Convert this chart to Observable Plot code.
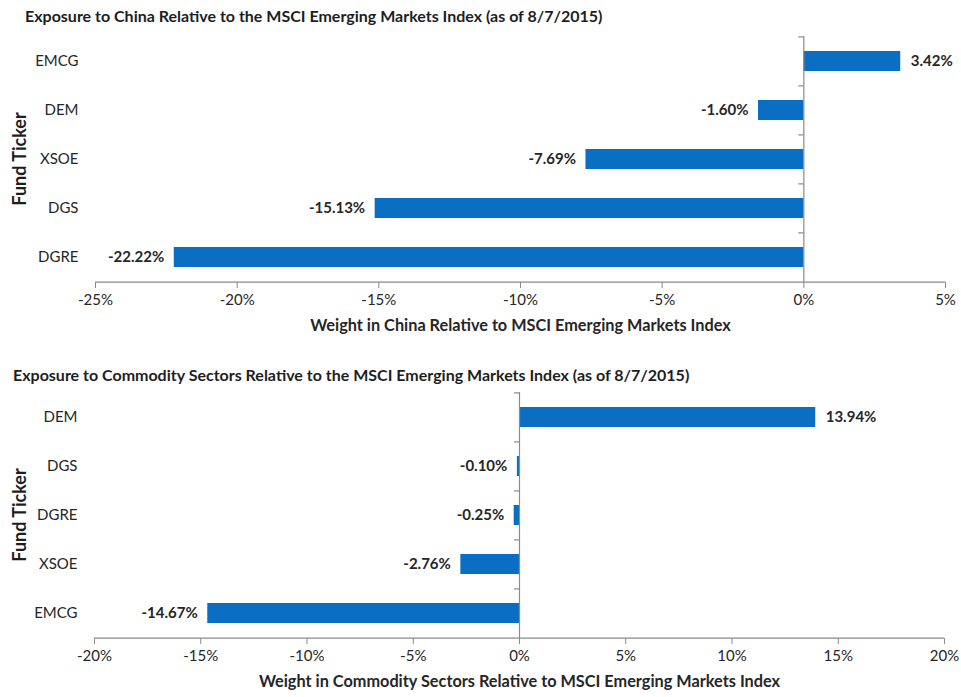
<!DOCTYPE html>
<html><head><meta charset="utf-8">
<script src="https://cdn.jsdelivr.net/npm/d3@7"></script>
<script src="https://cdn.jsdelivr.net/npm/@observablehq/plot@0.6"></script>
<style>
body{margin:0;background:#fff;font-family:Lato,sans-serif;}
#wrap{position:relative;width:961px;height:697px;overflow:hidden;}
.title{position:absolute;z-index:2;font-weight:bold;font-size:16px;color:#1e1e1e;white-space:nowrap;line-height:18px;}
.ylab{position:absolute;z-index:2;font-weight:bold;font-size:18px;color:#1e1e1e;white-space:nowrap;transform:translate(-50%,-50%) rotate(-90deg);}
.panel{position:absolute;left:0;z-index:1;}
</style></head><body>
<div id="wrap">
<div id="p1" class="panel" style="top:0px"></div>
<div id="p2" class="panel" style="top:356px"></div>
<div class="title" id="t1" style="left:25px;top:7px"></div>
<div class="title" id="t2" style="left:13px;top:366px"></div>
<div class="ylab" id="y1" style="left:19px;top:159px"></div>
<div class="ylab" id="y2" style="left:19px;top:515px"></div>
</div>
<script>
// ---- Data ----
const chinaTitle = "Exposure to China Relative to the MSCI Emerging Markets Index (as of 8/7/2015)";
const chinaTickers = ["EMCG", "DEM", "XSOE", "DGS", "DGRE"];
const chinaValues = [3.42, -1.60, -7.69, -15.13, -22.22];
const chinaTicks = [-25, -20, -15, -10, -5, 0, 5];
const chinaXLabel = "Weight in China Relative to MSCI Emerging Markets Index";

const commTitle = "Exposure to Commodity Sectors Relative to the MSCI Emerging Markets Index (as of 8/7/2015)";
const commTickers = ["DEM", "DGS", "DGRE", "XSOE", "EMCG"];
const commValues = [13.94, -0.10, -0.25, -2.76, -14.67];
const commTicks = [-20, -15, -10, -5, 0, 5, 10, 15, 20];
const commXLabel = "Weight in Commodity Sectors Relative to MSCI Emerging Markets Index";

const yLabel = "Fund Ticker";

// ---- Styles ----
const barColor = "#0a6fc2";
const axisColor = "#8a8a8a";
const textColor = "#262626";

function panel({tickers, values, ticks, xLabel, height, mt, mb, ml, mr}) {
  const data = tickers.map((t, i) => ({t, v: values[i]}));
  const pi = 0.6, po = 0.3;
  const step = (height - mt - mb) / (tickers.length - pi + 2 * po);
  const pxPerUnit = (961 - ml - mr) / (ticks[ticks.length - 1] - ticks[0]);
  const tickLen = 5 / pxPerUnit;
  const last = tickers[tickers.length - 1];
  return Plot.plot({
    width: 961, height,
    marginTop: mt, marginBottom: mb, marginLeft: ml, marginRight: mr,
    style: {fontFamily: "Lato, sans-serif", fontSize: "15px", color: textColor, background: "transparent"},
    x: {domain: [ticks[0], ticks[ticks.length - 1]]},
    y: {domain: tickers, paddingInner: pi, paddingOuter: po},
    marks: [
      Plot.barX(data, {x: "v", y: "t", fill: barColor}),
      Plot.ruleX([0], {stroke: axisColor, strokeWidth: 1.2}),
      Plot.ruleY(tickers, {y: d => d, x1: 0, x2: -tickLen, dy: -step / 2, stroke: axisColor, strokeWidth: 1.2}),
      Plot.ruleY([last], {y: d => d, dy: step / 2, stroke: axisColor, strokeWidth: 1.2}),
      Plot.axisX({ticks, tickFormat: d => d + "%", tickSize: 6, tickPadding: 6, stroke: axisColor, fill: textColor, label: null, fontSize: 15}),
      Plot.axisY({tickSize: 0, tickPadding: 17, fill: textColor, label: null, fontSize: 15}),
      Plot.text(data.filter(d => d.v >= 0), {x: "v", y: "t", text: d => d.v.toFixed(2) + "%", textAnchor: "start", dx: 10, fontWeight: "bold", fill: textColor, fontSize: 15}),
      Plot.text(data.filter(d => d.v < 0), {x: "v", y: "t", text: d => d.v.toFixed(2) + "%", textAnchor: "end", dx: -10, fontWeight: "bold", fill: textColor, fontSize: 15}),
      Plot.text([xLabel], {text: d => d, frameAnchor: "bottom", dy: 48, fontWeight: "bold", fill: textColor, fontSize: 16.3})
    ]
  });
}

document.getElementById("t1").textContent = chinaTitle;
document.getElementById("t2").textContent = commTitle;
document.getElementById("y1").textContent = yLabel;
document.getElementById("y2").textContent = yLabel;

document.getElementById("p1").append(panel({
  tickers: chinaTickers, values: chinaValues, ticks: chinaTicks, xLabel: chinaXLabel,
  height: 350, mt: 36, mb: 68, ml: 95, mr: 16
}));
document.getElementById("p2").append(panel({
  tickers: commTickers, values: commValues, ticks: commTicks, xLabel: commXLabel,
  height: 341, mt: 36, mb: 59, ml: 94, mr: 17
}));
</script>
</body></html>
